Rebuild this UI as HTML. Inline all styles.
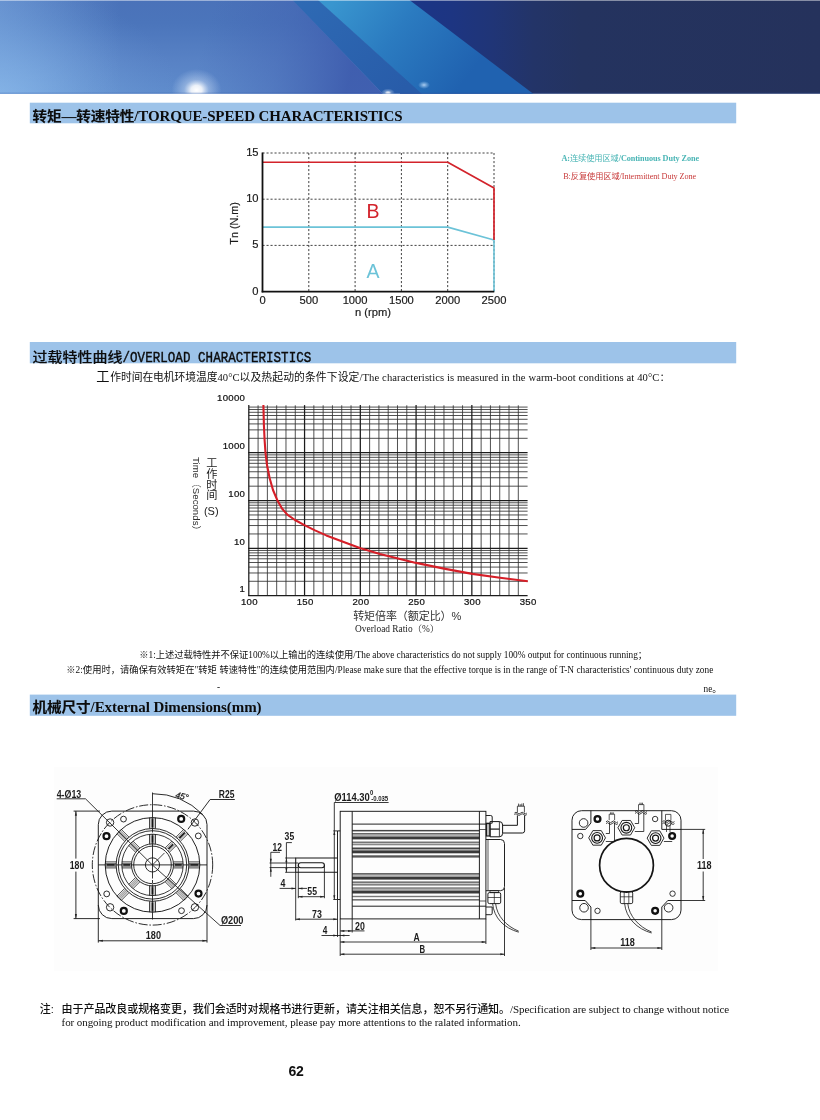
<!DOCTYPE html>
<html lang="zh-CN">
<head>
<meta charset="utf-8">
<title>Torque-Speed / Overload Characteristics / External Dimensions</title>
<style>
*{box-sizing:border-box}
html,body{margin:0;padding:0;background:#fff}
body{width:820px;height:1120px;position:relative;overflow:hidden;font-family:'Liberation Serif','Noto Sans CJK SC',serif;color:#111}
.abs{position:absolute;display:block}
.t{position:absolute;white-space:nowrap;line-height:20px;height:20px;margin:0;transform-origin:0 50%}
.h{font-weight:bold;font-size:14.6px;color:#0c0c0c}
.cj{font-family:'Liberation Sans','Noto Sans CJK SC',sans-serif}
.h .cj{display:inline-block;transform:scaleY(0.93);transform-origin:0 60%;-webkit-text-stroke:0.15px #0c0c0c}
svg text{font-family:'Liberation Sans','Noto Sans CJK SC',sans-serif}
.dot{stroke:#2e2e2e;stroke-width:0.9;stroke-dasharray:2.1 1.9;fill:none}
.tk{font-size:11.2px;fill:#1a1a1a;stroke:#1a1a1a;stroke-width:0.18}
.tk2{font-size:9.6px;fill:#111;letter-spacing:0.3px;stroke:#111;stroke-width:0.22}
.gm{stroke:#303030;stroke-width:0.85}
.gM{stroke:#1c1c1c;stroke-width:1.25}
.dm{fill:#1c1c1c;font-weight:bold;font-family:'Liberation Sans','Noto Sans CJK SC',sans-serif}
</style>
</head>
<body>

<svg class="abs" style="left:0;top:0" width="820" height="94" viewBox="0 0 820 94">
<defs>
<linearGradient id="bgL" x1="0" y1="0" x2="0" y2="1">
<stop offset="0" stop-color="#4a72b9"/><stop offset="0.25" stop-color="#4b75bb"/><stop offset="0.65" stop-color="#5882c5"/><stop offset="1" stop-color="#5f8ccc"/>
</linearGradient>
<radialGradient id="bgL2" gradientUnits="userSpaceOnUse" cx="-10" cy="100" r="190" gradientTransform="translate(0,100) scale(1,0.62) translate(0,-100)">
<stop offset="0" stop-color="#8dbdec" stop-opacity="0.85"/><stop offset="0.5" stop-color="#7aaae0" stop-opacity="0.4"/><stop offset="1" stop-color="#6a98d6" stop-opacity="0"/>
</radialGradient>
<linearGradient id="bgL4" gradientUnits="userSpaceOnUse" x1="0" y1="0" x2="120" y2="0"><stop offset="0" stop-color="#86b4e8" stop-opacity="0.45"/><stop offset="1" stop-color="#86b4e8" stop-opacity="0"/></linearGradient>
<linearGradient id="bgL3" gradientUnits="userSpaceOnUse" x1="215" y1="0" x2="360" y2="40">
<stop offset="0" stop-color="#4161b1" stop-opacity="0"/><stop offset="0.5" stop-color="#4161b1" stop-opacity="0.4"/><stop offset="1" stop-color="#3b58ab" stop-opacity="0.85"/>
</linearGradient>
<linearGradient id="band" gradientUnits="userSpaceOnUse" x1="335" y1="0" x2="455" y2="93">
<stop offset="0" stop-color="#3996cf"/><stop offset="0.45" stop-color="#2b7bc0"/><stop offset="1" stop-color="#2062b0"/>
</linearGradient>
<linearGradient id="wedge" gradientUnits="userSpaceOnUse" x1="300" y1="0" x2="400" y2="93"><stop offset="0" stop-color="#2e6ab4"/><stop offset="1" stop-color="#285ca9"/></linearGradient>
<linearGradient id="navy" gradientUnits="userSpaceOnUse" x1="410" y1="0" x2="820" y2="0">
<stop offset="0" stop-color="#1b3587"/><stop offset="0.1" stop-color="#1d3582"/><stop offset="0.2" stop-color="#203577"/><stop offset="0.3" stop-color="#233468"/><stop offset="0.42" stop-color="#24335f"/><stop offset="1" stop-color="#25325c"/>
</linearGradient>
<radialGradient id="fl"><stop offset="0" stop-color="#fff" stop-opacity="1"/><stop offset="0.22" stop-color="#fff" stop-opacity="0.88"/><stop offset="0.5" stop-color="#dbe9fb" stop-opacity="0.38"/><stop offset="1" stop-color="#cfe2fa" stop-opacity="0"/></radialGradient>
<radialGradient id="fl2"><stop offset="0" stop-color="#cfe6ff" stop-opacity="0.8"/><stop offset="1" stop-color="#9cc8f0" stop-opacity="0"/></radialGradient>
<clipPath id="bc"><rect x="0" y="0" width="820" height="93.7"/></clipPath>
</defs>
<g clip-path="url(#bc)">
<rect x="400" y="0" width="420" height="94" fill="url(#navy)"/>
<polygon points="317,0 409.5,0 533.5,94 421,94" fill="url(#band)"/>
<polygon points="290,0 318,0 422,94 380,94" fill="url(#wedge)"/>
<polygon points="0,0 292.5,0 383,94 0,94" fill="url(#bgL)"/>
<polygon points="0,0 292.5,0 383,94 0,94" fill="url(#bgL2)"/>
<polygon points="0,0 292.5,0 383,94 0,94" fill="url(#bgL3)"/>
<rect x="0" y="0" width="120" height="94" fill="url(#bgL4)"/>
<ellipse cx="196.5" cy="90" rx="25" ry="21" fill="url(#fl)"/>
<ellipse cx="388" cy="93" rx="7" ry="4.5" fill="url(#fl)"/>
<ellipse cx="424" cy="85" rx="6" ry="4" fill="url(#fl2)"/>
<rect x="0" y="0" width="820" height="1" fill="#ffffff" opacity="0.45"/>
<rect x="0" y="92.7" width="820" height="1" fill="#2a4fa0" opacity="0.35"/>
</g>
</svg>
<div class="abs" style="left:54px;top:767px;width:664px;height:204px;background:#fdfdfd"></div>
<svg class="abs" style="left:0;top:0" width="820" height="1120" viewBox="0 0 820 1120"><g fill="#9dc3e9"><rect x="29.8" y="102.7" width="706.4" height="20.6"/><rect x="29.8" y="342.0" width="706.4" height="21.3"/><rect x="29.8" y="694.6" width="706.4" height="21.2"/></g></svg>
<svg class="abs" style="left:0;top:0" width="820" height="1120" viewBox="0 0 820 1120">
<g id="torque"><line x1="308.80" y1="153.00" x2="308.80" y2="291.60" class="dot"/>
<line x1="355.10" y1="153.00" x2="355.10" y2="291.60" class="dot"/>
<line x1="401.40" y1="153.00" x2="401.40" y2="291.60" class="dot"/>
<line x1="447.70" y1="153.00" x2="447.70" y2="291.60" class="dot"/>
<line x1="494.00" y1="153.00" x2="494.00" y2="291.60" class="dot"/>
<line x1="262.50" y1="245.40" x2="494.00" y2="245.40" class="dot"/>
<line x1="262.50" y1="199.20" x2="494.00" y2="199.20" class="dot"/>
<line x1="262.50" y1="153.00" x2="494.00" y2="153.00" class="dot"/>
<polyline points="262.50,227.12 447.70,227.12 494.00,240.04 494.00,291.60" fill="none" stroke="#6cc3d8" stroke-width="1.6" stroke-linejoin="round"/>
<polyline points="262.50,162.24 447.70,162.24 494.00,188.11 494.00,240.04" fill="none" stroke="#d3232b" stroke-width="1.7" stroke-linejoin="round"/>
<line x1="262.50" y1="152.50" x2="262.50" y2="292.40" stroke="#111" stroke-width="1.8"/>
<line x1="261.70" y1="291.60" x2="494.30" y2="291.60" stroke="#111" stroke-width="1.8"/>
<text x="258.6" y="294.60" text-anchor="end" class="tk">0</text>
<text x="258.6" y="248.40" text-anchor="end" class="tk">5</text>
<text x="258.6" y="202.20" text-anchor="end" class="tk">10</text>
<text x="258.6" y="156.00" text-anchor="end" class="tk">15</text>
<text x="262.50" y="303.9" text-anchor="middle" class="tk">0</text>
<text x="308.80" y="303.9" text-anchor="middle" class="tk">500</text>
<text x="355.10" y="303.9" text-anchor="middle" class="tk">1000</text>
<text x="401.40" y="303.9" text-anchor="middle" class="tk">1500</text>
<text x="447.70" y="303.9" text-anchor="middle" class="tk">2000</text>
<text x="494.00" y="303.9" text-anchor="middle" class="tk">2500</text>
<text x="373" y="315.6" text-anchor="middle" class="tk">n (rpm)</text>
<text transform="translate(238.4,223.4) rotate(-90)" text-anchor="middle" class="tk" style="font-size:10.8px">Tn (N.m)</text>
<text x="373" y="218.2" text-anchor="middle" font-family="'Liberation Sans','Noto Sans CJK SC',sans-serif" font-size="19.5" fill="#d3232b">B</text>
<text x="373" y="277.8" text-anchor="middle" font-family="'Liberation Sans','Noto Sans CJK SC',sans-serif" font-size="19.5" fill="#6cc3d8">A</text></g>
<g id="overload"><line x1="248.80" y1="581.29" x2="527.60" y2="581.29" class="gm"/>
<line x1="248.80" y1="572.98" x2="527.60" y2="572.98" class="gm"/>
<line x1="248.80" y1="567.08" x2="527.60" y2="567.08" class="gm"/>
<line x1="248.80" y1="562.51" x2="527.60" y2="562.51" class="gm"/>
<line x1="248.80" y1="558.77" x2="527.60" y2="558.77" class="gm"/>
<line x1="248.80" y1="555.61" x2="527.60" y2="555.61" class="gm"/>
<line x1="248.80" y1="552.87" x2="527.60" y2="552.87" class="gm"/>
<line x1="248.80" y1="550.46" x2="527.60" y2="550.46" class="gm"/>
<line x1="248.80" y1="533.94" x2="527.60" y2="533.94" class="gm"/>
<line x1="248.80" y1="525.54" x2="527.60" y2="525.54" class="gm"/>
<line x1="248.80" y1="519.58" x2="527.60" y2="519.58" class="gm"/>
<line x1="248.80" y1="514.96" x2="527.60" y2="514.96" class="gm"/>
<line x1="248.80" y1="511.18" x2="527.60" y2="511.18" class="gm"/>
<line x1="248.80" y1="507.99" x2="527.60" y2="507.99" class="gm"/>
<line x1="248.80" y1="505.22" x2="527.60" y2="505.22" class="gm"/>
<line x1="248.80" y1="502.78" x2="527.60" y2="502.78" class="gm"/>
<line x1="248.80" y1="486.18" x2="527.60" y2="486.18" class="gm"/>
<line x1="248.80" y1="477.75" x2="527.60" y2="477.75" class="gm"/>
<line x1="248.80" y1="471.76" x2="527.60" y2="471.76" class="gm"/>
<line x1="248.80" y1="467.12" x2="527.60" y2="467.12" class="gm"/>
<line x1="248.80" y1="463.33" x2="527.60" y2="463.33" class="gm"/>
<line x1="248.80" y1="460.12" x2="527.60" y2="460.12" class="gm"/>
<line x1="248.80" y1="457.34" x2="527.60" y2="457.34" class="gm"/>
<line x1="248.80" y1="454.89" x2="527.60" y2="454.89" class="gm"/>
<line x1="248.80" y1="438.31" x2="527.60" y2="438.31" class="gm"/>
<line x1="248.80" y1="429.89" x2="527.60" y2="429.89" class="gm"/>
<line x1="248.80" y1="423.92" x2="527.60" y2="423.92" class="gm"/>
<line x1="248.80" y1="419.29" x2="527.60" y2="419.29" class="gm"/>
<line x1="248.80" y1="415.50" x2="527.60" y2="415.50" class="gm"/>
<line x1="248.80" y1="412.30" x2="527.60" y2="412.30" class="gm"/>
<line x1="248.80" y1="409.53" x2="527.60" y2="409.53" class="gm"/>
<line x1="248.80" y1="407.09" x2="527.60" y2="407.09" class="gm"/>
<line x1="258.09" y1="405.30" x2="258.09" y2="595.50" class="gm"/>
<line x1="267.39" y1="405.30" x2="267.39" y2="595.50" class="gm"/>
<line x1="276.68" y1="405.30" x2="276.68" y2="595.50" class="gm"/>
<line x1="285.97" y1="405.30" x2="285.97" y2="595.50" class="gm"/>
<line x1="295.27" y1="405.30" x2="295.27" y2="595.50" class="gm"/>
<line x1="313.85" y1="405.30" x2="313.85" y2="595.50" class="gm"/>
<line x1="323.15" y1="405.30" x2="323.15" y2="595.50" class="gm"/>
<line x1="332.44" y1="405.30" x2="332.44" y2="595.50" class="gm"/>
<line x1="341.73" y1="405.30" x2="341.73" y2="595.50" class="gm"/>
<line x1="351.03" y1="405.30" x2="351.03" y2="595.50" class="gm"/>
<line x1="369.61" y1="405.30" x2="369.61" y2="595.50" class="gm"/>
<line x1="378.91" y1="405.30" x2="378.91" y2="595.50" class="gm"/>
<line x1="388.20" y1="405.30" x2="388.20" y2="595.50" class="gm"/>
<line x1="397.49" y1="405.30" x2="397.49" y2="595.50" class="gm"/>
<line x1="406.79" y1="405.30" x2="406.79" y2="595.50" class="gm"/>
<line x1="425.37" y1="405.30" x2="425.37" y2="595.50" class="gm"/>
<line x1="434.67" y1="405.30" x2="434.67" y2="595.50" class="gm"/>
<line x1="443.96" y1="405.30" x2="443.96" y2="595.50" class="gm"/>
<line x1="453.25" y1="405.30" x2="453.25" y2="595.50" class="gm"/>
<line x1="462.55" y1="405.30" x2="462.55" y2="595.50" class="gm"/>
<line x1="481.13" y1="405.30" x2="481.13" y2="595.50" class="gm"/>
<line x1="490.43" y1="405.30" x2="490.43" y2="595.50" class="gm"/>
<line x1="499.72" y1="405.30" x2="499.72" y2="595.50" class="gm"/>
<line x1="509.01" y1="405.30" x2="509.01" y2="595.50" class="gm"/>
<line x1="518.31" y1="405.30" x2="518.31" y2="595.50" class="gm"/>
<line x1="248.20" y1="595.50" x2="527.60" y2="595.50" class="gM"/>
<line x1="248.20" y1="548.30" x2="527.60" y2="548.30" class="gM"/>
<line x1="248.20" y1="500.60" x2="527.60" y2="500.60" class="gM"/>
<line x1="248.20" y1="452.70" x2="527.60" y2="452.70" class="gM"/>
<line x1="248.80" y1="405.10" x2="248.80" y2="596.10" class="gM"/>
<line x1="304.56" y1="405.10" x2="304.56" y2="596.10" class="gM"/>
<line x1="360.32" y1="405.10" x2="360.32" y2="596.10" class="gM"/>
<line x1="416.08" y1="405.10" x2="416.08" y2="596.10" class="gM"/>
<line x1="471.84" y1="405.10" x2="471.84" y2="596.10" class="gM"/>
<path d="M263.4,405.0 L263.9,425.0 L264.6,440.0 L265.5,452.6 L267.0,465.0 L269.6,478.0 L273.0,490.0 L277.6,500.8 L282.0,508.5 L287.3,514.6 L295.0,520.0 L304.4,525.1 L315.0,530.4 L326.3,535.4 L343.0,541.8 L360.5,548.3 L380.0,554.1 L398.0,558.6 L416.1,562.9 L444.0,568.6 L472.2,573.9 L500.0,577.8 L527.8,581.2" fill="none" stroke="#d61f28" stroke-width="2.1" stroke-linejoin="round" stroke-linecap="butt"/>
<text x="245.2" y="401.20" text-anchor="end" class="tk2">10000</text>
<text x="245.2" y="449.30" text-anchor="end" class="tk2">1000</text>
<text x="245.2" y="496.70" text-anchor="end" class="tk2">100</text>
<text x="245.2" y="545.00" text-anchor="end" class="tk2">10</text>
<text x="245.2" y="591.80" text-anchor="end" class="tk2">1</text>
<text x="249.40" y="605.2" text-anchor="middle" class="tk2">100</text>
<text x="305.16" y="605.2" text-anchor="middle" class="tk2">150</text>
<text x="360.92" y="605.2" text-anchor="middle" class="tk2">200</text>
<text x="416.68" y="605.2" text-anchor="middle" class="tk2">250</text>
<text x="472.44" y="605.2" text-anchor="middle" class="tk2">300</text>
<text x="528.20" y="605.2" text-anchor="middle" class="tk2">350</text>
<text x="211.9 211.9 211.9 211.9" y="467.30 478.00 488.70 499.40" text-anchor="middle" font-size="11.2" fill="#222">工作时间</text>
<text x="211.3" y="514.6" text-anchor="middle" font-family="'Liberation Sans','Noto Sans CJK SC',sans-serif" font-size="11" fill="#222">(S)</text>
<text id="tsec" transform="translate(192.9,457.0) rotate(90)" font-size="9.6" fill="#2a2a2a" style="letter-spacing:0.05px">Time（Seconds）</text>
<text id="tratio" x="353.2" y="619.9" font-size="11" fill="#333" style="letter-spacing:-0.08px">转矩倍率（额定比）%</text>
<text id="toverl" x="355.1" y="631.6" style="font-family:'Liberation Serif','Noto Serif CJK SC',serif;letter-spacing:0px" font-size="9.4" fill="#222">Overload Ratio（%）</text></g>
<g id="front"><g fill="none" stroke="#151515" stroke-width="0.95">
<rect x="98.3" y="811.1" width="108.7" height="107.5" rx="13.5" ry="13.5" stroke-width="0.95"/>
<circle cx="152.5" cy="864.9" r="60.2" stroke-dasharray="9 1.8 1.6 1.8" stroke-width="0.9"/>
<circle cx="152.5" cy="864.9" r="47.3" stroke-width="0.95"/>
<circle cx="152.5" cy="864.9" r="36.4" stroke-width="0.9"/>
<circle cx="152.5" cy="864.9" r="34.2" stroke-width="0.9"/>
<circle cx="152.5" cy="864.9" r="30.7" stroke-width="0.85"/>
<circle cx="152.5" cy="864.9" r="21.0" stroke-width="0.9"/>
<circle cx="152.5" cy="864.9" r="18.8" stroke-width="0.9"/>
<circle cx="152.5" cy="864.9" r="7.1" stroke-width="0.9"/>
<line x1="188.90" y1="861.90" x2="199.80" y2="861.90" stroke-width="0.8"/>
<line x1="188.90" y1="867.90" x2="199.80" y2="867.90" stroke-width="0.8"/>
<line x1="188.90" y1="863.50" x2="199.80" y2="863.50" stroke-width="0.6"/>
<line x1="188.90" y1="866.30" x2="199.80" y2="866.30" stroke-width="0.6"/>
<line x1="190.40" y1="864.90" x2="198.30" y2="864.90" stroke-width="1.5" stroke="#111"/>
<line x1="173.50" y1="861.90" x2="183.20" y2="861.90" stroke-width="0.8"/>
<line x1="173.50" y1="867.90" x2="183.20" y2="867.90" stroke-width="0.8"/>
<line x1="173.50" y1="863.50" x2="183.20" y2="863.50" stroke-width="0.6"/>
<line x1="173.50" y1="866.30" x2="183.20" y2="866.30" stroke-width="0.6"/>
<line x1="175.00" y1="864.90" x2="181.70" y2="864.90" stroke-width="1.5" stroke="#111"/>
<line x1="180.36" y1="888.52" x2="188.07" y2="896.22" stroke-width="0.8"/>
<line x1="176.12" y1="892.76" x2="183.82" y2="900.47" stroke-width="0.8"/>
<line x1="179.23" y1="889.65" x2="186.94" y2="897.36" stroke-width="0.6"/>
<line x1="177.25" y1="891.63" x2="184.96" y2="899.34" stroke-width="0.6"/>
<line x1="178.24" y1="890.64" x2="185.95" y2="898.35" stroke-width="0.6"/>
<line x1="169.47" y1="877.63" x2="176.33" y2="884.49" stroke-width="0.8"/>
<line x1="165.23" y1="881.87" x2="172.09" y2="888.73" stroke-width="0.8"/>
<line x1="168.34" y1="878.76" x2="175.20" y2="885.62" stroke-width="0.6"/>
<line x1="166.36" y1="880.74" x2="173.22" y2="887.60" stroke-width="0.6"/>
<line x1="167.35" y1="879.75" x2="174.21" y2="886.61" stroke-width="0.6"/>
<line x1="155.50" y1="901.30" x2="155.50" y2="912.20" stroke-width="0.8"/>
<line x1="149.50" y1="901.30" x2="149.50" y2="912.20" stroke-width="0.8"/>
<line x1="153.90" y1="901.30" x2="153.90" y2="912.20" stroke-width="0.6"/>
<line x1="151.10" y1="901.30" x2="151.10" y2="912.20" stroke-width="0.6"/>
<line x1="152.50" y1="902.80" x2="152.50" y2="910.70" stroke-width="1.5" stroke="#111"/>
<line x1="155.50" y1="885.90" x2="155.50" y2="895.60" stroke-width="0.8"/>
<line x1="149.50" y1="885.90" x2="149.50" y2="895.60" stroke-width="0.8"/>
<line x1="153.90" y1="885.90" x2="153.90" y2="895.60" stroke-width="0.6"/>
<line x1="151.10" y1="885.90" x2="151.10" y2="895.60" stroke-width="0.6"/>
<line x1="152.50" y1="887.40" x2="152.50" y2="894.10" stroke-width="1.5" stroke="#111"/>
<line x1="128.88" y1="892.76" x2="121.18" y2="900.47" stroke-width="0.8"/>
<line x1="124.64" y1="888.52" x2="116.93" y2="896.22" stroke-width="0.8"/>
<line x1="127.75" y1="891.63" x2="120.04" y2="899.34" stroke-width="0.6"/>
<line x1="125.77" y1="889.65" x2="118.06" y2="897.36" stroke-width="0.6"/>
<line x1="126.76" y1="890.64" x2="119.05" y2="898.35" stroke-width="0.6"/>
<line x1="139.77" y1="881.87" x2="132.91" y2="888.73" stroke-width="0.8"/>
<line x1="135.53" y1="877.63" x2="128.67" y2="884.49" stroke-width="0.8"/>
<line x1="138.64" y1="880.74" x2="131.78" y2="887.60" stroke-width="0.6"/>
<line x1="136.66" y1="878.76" x2="129.80" y2="885.62" stroke-width="0.6"/>
<line x1="137.65" y1="879.75" x2="130.79" y2="886.61" stroke-width="0.6"/>
<line x1="116.10" y1="867.90" x2="105.20" y2="867.90" stroke-width="0.8"/>
<line x1="116.10" y1="861.90" x2="105.20" y2="861.90" stroke-width="0.8"/>
<line x1="116.10" y1="866.30" x2="105.20" y2="866.30" stroke-width="0.6"/>
<line x1="116.10" y1="863.50" x2="105.20" y2="863.50" stroke-width="0.6"/>
<line x1="114.60" y1="864.90" x2="106.70" y2="864.90" stroke-width="1.5" stroke="#111"/>
<line x1="131.50" y1="867.90" x2="121.80" y2="867.90" stroke-width="0.8"/>
<line x1="131.50" y1="861.90" x2="121.80" y2="861.90" stroke-width="0.8"/>
<line x1="131.50" y1="866.30" x2="121.80" y2="866.30" stroke-width="0.6"/>
<line x1="131.50" y1="863.50" x2="121.80" y2="863.50" stroke-width="0.6"/>
<line x1="130.00" y1="864.90" x2="123.30" y2="864.90" stroke-width="1.5" stroke="#111"/>
<line x1="124.64" y1="841.28" x2="116.93" y2="833.58" stroke-width="0.8"/>
<line x1="128.88" y1="837.04" x2="121.18" y2="829.33" stroke-width="0.8"/>
<line x1="125.77" y1="840.15" x2="118.06" y2="832.44" stroke-width="0.6"/>
<line x1="127.75" y1="838.17" x2="120.04" y2="830.46" stroke-width="0.6"/>
<line x1="126.76" y1="839.16" x2="119.05" y2="831.45" stroke-width="0.6"/>
<line x1="135.53" y1="852.17" x2="128.67" y2="845.31" stroke-width="0.8"/>
<line x1="139.77" y1="847.93" x2="132.91" y2="841.07" stroke-width="0.8"/>
<line x1="136.66" y1="851.04" x2="129.80" y2="844.18" stroke-width="0.6"/>
<line x1="138.64" y1="849.06" x2="131.78" y2="842.20" stroke-width="0.6"/>
<line x1="137.65" y1="850.05" x2="130.79" y2="843.19" stroke-width="0.6"/>
<line x1="149.50" y1="828.50" x2="149.50" y2="817.60" stroke-width="0.8"/>
<line x1="155.50" y1="828.50" x2="155.50" y2="817.60" stroke-width="0.8"/>
<line x1="151.10" y1="828.50" x2="151.10" y2="817.60" stroke-width="0.6"/>
<line x1="153.90" y1="828.50" x2="153.90" y2="817.60" stroke-width="0.6"/>
<line x1="152.50" y1="827.00" x2="152.50" y2="819.10" stroke-width="1.5" stroke="#111"/>
<line x1="149.50" y1="843.90" x2="149.50" y2="834.20" stroke-width="0.8"/>
<line x1="155.50" y1="843.90" x2="155.50" y2="834.20" stroke-width="0.8"/>
<line x1="151.10" y1="843.90" x2="151.10" y2="834.20" stroke-width="0.6"/>
<line x1="153.90" y1="843.90" x2="153.90" y2="834.20" stroke-width="0.6"/>
<line x1="152.50" y1="842.40" x2="152.50" y2="835.70" stroke-width="1.5" stroke="#111"/>
<line x1="176.12" y1="837.04" x2="183.82" y2="829.33" stroke-width="0.8"/>
<line x1="180.36" y1="841.28" x2="188.07" y2="833.58" stroke-width="0.8"/>
<line x1="177.25" y1="838.17" x2="184.96" y2="830.46" stroke-width="0.6"/>
<line x1="179.23" y1="840.15" x2="186.94" y2="832.44" stroke-width="0.6"/>
<line x1="179.30" y1="838.10" x2="184.89" y2="832.51" stroke-width="1.5" stroke="#111"/>
<line x1="165.23" y1="847.93" x2="172.09" y2="841.07" stroke-width="0.8"/>
<line x1="169.47" y1="852.17" x2="176.33" y2="845.31" stroke-width="0.8"/>
<line x1="166.36" y1="849.06" x2="173.22" y2="842.20" stroke-width="0.6"/>
<line x1="168.34" y1="851.04" x2="175.20" y2="844.18" stroke-width="0.6"/>
<line x1="168.41" y1="848.99" x2="173.15" y2="844.25" stroke-width="1.5" stroke="#111"/>
<circle cx="110.10" cy="822.50" r="3.7" stroke-width="0.9"/>
<circle cx="123.50" cy="819.10" r="2.9" stroke-width="0.9"/>
<circle cx="106.50" cy="836.20" r="3.0" stroke-width="2.2" stroke="#111"/>
<circle cx="194.90" cy="822.50" r="3.7" stroke-width="0.9"/>
<circle cx="198.30" cy="835.90" r="2.9" stroke-width="0.9"/>
<circle cx="181.20" cy="818.90" r="3.0" stroke-width="2.2" stroke="#111"/>
<circle cx="194.90" cy="907.30" r="3.7" stroke-width="0.9"/>
<circle cx="181.50" cy="910.70" r="2.9" stroke-width="0.9"/>
<circle cx="198.50" cy="893.60" r="3.0" stroke-width="2.2" stroke="#111"/>
<circle cx="110.10" cy="907.30" r="3.7" stroke-width="0.9"/>
<circle cx="106.70" cy="893.90" r="2.9" stroke-width="0.9"/>
<circle cx="123.80" cy="910.90" r="3.0" stroke-width="2.2" stroke="#111"/>
<line x1="152.5" y1="792.5" x2="152.5" y2="919.5" stroke-width="0.85" stroke-dasharray="40 1.5 3 1.5"/>
<line x1="98.3" y1="864.9" x2="207" y2="864.9" stroke-width="0.9"/>
<path d="M152.5,793.70 A71.2,71.2 0 0 1 202.85,814.55" stroke-width="0.9"/>
<polyline points="56.7,798.8 85.5,798.8 152.4,865 220.1,925.5 241,925.5" stroke-width="0.85"/>
<polyline points="234.8,799.5 210.1,799.5 187.9,829.3" stroke-width="0.9"/><line x1="152.4" y1="865" x2="164.5" y2="852.9" stroke-width="0.8"/>
<line x1="73.6" y1="811.1" x2="100" y2="811.1" stroke-width="0.9"/>
<line x1="73.6" y1="918.6" x2="100" y2="918.6" stroke-width="0.9"/>
<line x1="75.9" y1="811.1" x2="75.9" y2="858.6" stroke-width="0.9"/>
<line x1="75.9" y1="871.6" x2="75.9" y2="918.6" stroke-width="0.9"/>
<line x1="98.3" y1="905" x2="98.3" y2="942.6" stroke-width="0.9"/>
<line x1="207" y1="905" x2="207" y2="942.6" stroke-width="0.9"/>
<line x1="98.3" y1="940.8" x2="207" y2="940.8" stroke-width="0.9"/>
</g>
<polygon points="75.90,811.10 76.95,815.70 74.85,815.70" fill="#222" stroke="none"/>
<polygon points="75.90,918.60 74.85,914.00 76.95,914.00" fill="#222" stroke="none"/>
<polygon points="98.30,940.80 102.90,939.75 102.90,941.85" fill="#222" stroke="none"/>
<polygon points="207.00,940.80 202.40,941.85 202.40,939.75" fill="#222" stroke="none"/>
<text x="77.00" y="868.80" text-anchor="middle" class="dm" font-size="10.6" textLength="14.6" lengthAdjust="spacingAndGlyphs">180</text>
<text x="153.40" y="939.20" text-anchor="middle" class="dm" font-size="10.6" textLength="15.2" lengthAdjust="spacingAndGlyphs">180</text>
<text x="69.00" y="798.00" text-anchor="middle" class="dm" font-size="10.6" textLength="24.6" lengthAdjust="spacingAndGlyphs">4-Ø13</text>
<text x="226.60" y="798.40" text-anchor="middle" class="dm" font-size="10.6" textLength="15.6" lengthAdjust="spacingAndGlyphs">R25</text>
<text x="232.20" y="923.90" text-anchor="middle" class="dm" font-size="10.6" textLength="22.6" lengthAdjust="spacingAndGlyphs">Ø200</text>
<text transform="translate(181.2,799.0) rotate(14)" text-anchor="middle" font-style="italic" font-size="8.6" fill="#222" stroke="#222" stroke-width="0.25">45°</text></g>
<g id="side"><g fill="none" stroke="#151515" stroke-width="0.95">
<rect x="352.2" y="834.5" width="127.2" height="2.00" fill="#b0b0b0" stroke="none"/>
<rect x="352.2" y="849.0" width="127.2" height="1.40" fill="#a8a8a8" stroke="none"/>
<rect x="352.2" y="842.8" width="127.2" height="1.20" fill="#c4c4c4" stroke="none"/>
<rect x="352.2" y="874.7" width="127.2" height="2.00" fill="#b8b8b8" stroke="none"/>
<rect x="352.2" y="888.7" width="127.2" height="1.90" fill="#b0b0b0" stroke="none"/>
<rect x="352.2" y="882.8" width="127.2" height="1.40" fill="#c8c8c8" stroke="none"/>
<rect x="352.2" y="829.9" width="127.2" height="1.50" fill="#444" stroke="none"/>
<rect x="352.2" y="833.0" width="127.2" height="1.50" fill="#666" stroke="none"/>
<rect x="352.2" y="836.5" width="127.2" height="2.90" fill="#3a3a3a" stroke="none"/>
<rect x="352.2" y="841.6" width="127.2" height="1.20" fill="#555" stroke="none"/>
<rect x="352.2" y="844.0" width="127.2" height="1.30" fill="#888" stroke="none"/>
<rect x="352.2" y="847.5" width="127.2" height="1.50" fill="#444" stroke="none"/>
<rect x="352.2" y="850.4" width="127.2" height="2.90" fill="#3a3a3a" stroke="none"/>
<rect x="352.2" y="855.3" width="127.2" height="2.30" fill="#555" stroke="none"/>
<rect x="352.2" y="873.0" width="127.2" height="1.70" fill="#666" stroke="none"/>
<rect x="352.2" y="876.7" width="127.2" height="2.90" fill="#3a3a3a" stroke="none"/>
<rect x="352.2" y="881.5" width="127.2" height="1.30" fill="#555" stroke="none"/>
<rect x="352.2" y="884.2" width="127.2" height="1.30" fill="#666" stroke="none"/>
<rect x="352.2" y="887.4" width="127.2" height="1.30" fill="#666" stroke="none"/>
<rect x="352.2" y="890.6" width="127.2" height="2.90" fill="#3a3a3a" stroke="none"/>
<rect x="352.2" y="895.8" width="127.2" height="1.40" fill="#777" stroke="none"/>
<rect x="352.2" y="899.2" width="127.2" height="1.30" fill="#555" stroke="none"/>
<rect x="340.2" y="811.3" width="145.7" height="107.6" stroke-width="0.95"/>
<line x1="352.2" y1="811.3" x2="352.2" y2="918.9"/>
<line x1="479.4" y1="811.3" x2="479.4" y2="918.9"/>
<line x1="352.2" y1="824.1" x2="485.9" y2="824.1"/>
<line x1="352.2" y1="906.2" x2="485.9" y2="906.2"/>
<line x1="479.4" y1="829.5" x2="485.9" y2="829.5" stroke-width="0.7"/>
<line x1="479.4" y1="901" x2="485.9" y2="901" stroke-width="0.7"/>
<polyline points="340.2,830.9 337.5,830.9 337.5,899.5 340.2,899.5" />
<polyline points="337.5,858 295.7,858 295.7,872.3 337.5,872.3" stroke-width="1.05"/>
<rect x="298.3" y="862.7" width="26.1" height="5" rx="2.5" ry="2.5" stroke-width="1.1"/>
<line x1="298.3" y1="865.2" x2="298.3" y2="898.2" stroke-width="0.85"/>
<line x1="324.4" y1="865.2" x2="324.4" y2="898.2" stroke-width="0.85"/>
<line x1="269.6" y1="863.0" x2="298.3" y2="863.0" stroke-width="0.85"/>
<line x1="269.6" y1="867.6" x2="298.3" y2="867.6" stroke-width="0.85"/>
<polyline points="280,852.3 270.8,852.3 270.8,876.8" stroke-width="0.85"/>
<polyline points="291.9,842.6 286.4,842.6 286.4,872.3" stroke-width="0.85"/>
<line x1="285.2" y1="858" x2="295.7" y2="858" stroke-width="0.85"/>
<line x1="285.2" y1="872.3" x2="295.7" y2="872.3" stroke-width="0.85"/>
<line x1="295.7" y1="872.3" x2="295.7" y2="920.5" stroke-width="0.85"/>
<line x1="279.6" y1="888.4" x2="295.7" y2="888.4" stroke-width="0.85"/><line x1="298.3" y1="888.4" x2="307" y2="888.4" stroke-width="0.85"/>
<line x1="298.3" y1="896.7" x2="324.4" y2="896.7" stroke-width="0.85"/>
<line x1="295.7" y1="919.2" x2="337.5" y2="919.2" stroke-width="0.85"/>
<polyline points="388.6,802.5 334.3,802.5 334.3,899.5" stroke-width="0.85"/>
<line x1="333.3" y1="830.9" x2="337.5" y2="830.9" stroke-width="0.85"/>
<line x1="333.3" y1="899.5" x2="337.5" y2="899.5" stroke-width="0.85"/>
<line x1="337.5" y1="899.5" x2="337.5" y2="937" stroke-width="0.85"/>
<line x1="340.2" y1="918.9" x2="340.2" y2="956" stroke-width="0.85"/>
<line x1="352.2" y1="918.9" x2="352.2" y2="932.5" stroke-width="0.85"/>
<line x1="340.2" y1="930.9" x2="364.5" y2="930.9" stroke-width="0.85"/>
<line x1="321.5" y1="935.5" x2="349.6" y2="935.5" stroke-width="0.85"/>
<line x1="340.2" y1="942" x2="485.9" y2="942" stroke-width="0.85"/>
<line x1="340.2" y1="954.2" x2="504.5" y2="954.2" stroke-width="0.85"/>
<line x1="485.9" y1="918.9" x2="485.9" y2="944" stroke-width="0.85"/>
<line x1="504.5" y1="888" x2="504.5" y2="956" stroke-width="0.85"/>
<path d="M485.9,815.5 H490.7 Q492.2,815.5 492.2,817 V823.2 H485.9"/>
<path d="M485.9,907 H492.2 V913.2 Q492.2,914.7 490.7,914.7 H485.9"/>
<path d="M485.9,839.5 H500.5 Q504.5,839.5 504.5,843.5 V886.7 Q504.5,890.7 500.5,890.7 H485.9" />
<line x1="488" y1="839.5" x2="488" y2="890.7" stroke-width="0.7"/>
<rect x="486.4" y="823.6" width="3.6" height="12.4" stroke-width="1.1" fill="#bbb"/>
<path d="M490,821.6 H499.4 Q502.6,821.6 502.6,825 V833.4 Q502.6,836.8 499.4,836.8 H490 Z" stroke-width="1.0"/>
<line x1="490" y1="829.1" x2="499.4" y2="829.1" stroke-width="1.2"/>
<line x1="499.4" y1="821.6" x2="499.4" y2="836.8" stroke-width="0.8"/>
<path d="M502.6,825.3 H517.4 V815.4 M502.6,833 H522.4 Q524.6,833 524.6,830.8 V815.4" stroke-width="1.0"/>
<path d="M514.4,814.6 q1.55,-1.7 3.1,0 t3.1,0 t3.1,0 t3.1,0" stroke-width="0.8"/>
<path d="M514.4,813.1 q1.55,-1.7 3.1,0 t3.1,0 t3.1,0 t3.1,0" stroke-width="0.8"/>
<path d="M517.4,812.6 V806.2 H524.4 V812.6 M518.6,806.2 V803.6 M520.2,806.2 V804.2 M521.8,806.2 V803.6 M523.4,806.2 V803.2" stroke-width="0.75"/>
<rect x="487.9" y="892.6" width="12.8" height="11" rx="1.5"/>
<line x1="487.9" y1="897.5" x2="500.7" y2="897.5" stroke-width="0.7"/>
<line x1="494.3" y1="892.6" x2="494.3" y2="903.6" stroke-width="0.7"/>
<rect x="490" y="890.7" width="8.5" height="2" stroke-width="0.7"/>
<path d="M492.6,903.6 C494,918 504,928 518.7,932.2" stroke-width="0.8"/>
<path d="M495.6,903.6 C497,916 506,926 518.7,931.2" stroke-width="0.8"/>
</g>
<polygon points="270.80,863.00 269.80,858.80 271.80,858.80" fill="#222" stroke="none"/>
<polygon points="270.80,867.60 271.80,871.80 269.80,871.80" fill="#222" stroke="none"/>
<polygon points="286.40,858.00 287.40,862.20 285.40,862.20" fill="#222" stroke="none"/>
<polygon points="286.40,872.30 285.40,868.10 287.40,868.10" fill="#222" stroke="none"/>
<polygon points="295.70,888.40 291.50,889.40 291.50,887.40" fill="#222" stroke="none"/>
<polygon points="298.30,888.40 302.50,887.40 302.50,889.40" fill="#222" stroke="none"/>
<polygon points="298.30,896.70 302.50,895.70 302.50,897.70" fill="#222" stroke="none"/>
<polygon points="324.40,896.70 320.20,897.70 320.20,895.70" fill="#222" stroke="none"/>
<polygon points="295.70,919.20 299.90,918.20 299.90,920.20" fill="#222" stroke="none"/>
<polygon points="337.50,919.20 333.30,920.20 333.30,918.20" fill="#222" stroke="none"/>
<polygon points="334.30,830.90 335.30,835.10 333.30,835.10" fill="#222" stroke="none"/>
<polygon points="334.30,899.50 333.30,895.30 335.30,895.30" fill="#222" stroke="none"/>
<polygon points="340.20,930.90 344.40,929.90 344.40,931.90" fill="#222" stroke="none"/>
<polygon points="352.20,930.90 348.00,931.90 348.00,929.90" fill="#222" stroke="none"/>
<polygon points="337.50,935.50 333.30,936.50 333.30,934.50" fill="#222" stroke="none"/>
<polygon points="340.20,935.50 344.40,934.50 344.40,936.50" fill="#222" stroke="none"/>
<polygon points="340.20,942.00 344.40,941.00 344.40,943.00" fill="#222" stroke="none"/>
<polygon points="485.90,942.00 481.70,943.00 481.70,941.00" fill="#222" stroke="none"/>
<polygon points="340.20,954.20 344.40,953.20 344.40,955.20" fill="#222" stroke="none"/>
<polygon points="504.50,954.20 500.30,955.20 500.30,953.20" fill="#222" stroke="none"/>
<text x="277.20" y="850.90" text-anchor="middle" class="dm" font-size="10.6" textLength="9.4" lengthAdjust="spacingAndGlyphs">12</text>
<text x="289.40" y="839.70" text-anchor="middle" class="dm" font-size="10.6" textLength="9.6" lengthAdjust="spacingAndGlyphs">35</text>
<text x="283.00" y="887.00" text-anchor="middle" class="dm" font-size="10.6" textLength="4.9" lengthAdjust="spacingAndGlyphs">4</text>
<text x="312.20" y="894.70" text-anchor="middle" class="dm" font-size="10.6" textLength="9.7" lengthAdjust="spacingAndGlyphs">55</text>
<text x="317.00" y="917.70" text-anchor="middle" class="dm" font-size="10.6" textLength="9.8" lengthAdjust="spacingAndGlyphs">73</text>
<text x="360.00" y="930.20" text-anchor="middle" class="dm" font-size="10.6" textLength="9.8" lengthAdjust="spacingAndGlyphs">20</text>
<text x="325.00" y="934.00" text-anchor="middle" class="dm" font-size="10.6" textLength="4.6" lengthAdjust="spacingAndGlyphs">4</text>
<text x="416.60" y="940.50" text-anchor="middle" class="dm" font-size="10.6" textLength="6.2" lengthAdjust="spacingAndGlyphs">A</text>
<text x="422.20" y="952.60" text-anchor="middle" class="dm" font-size="10.6" textLength="5.6" lengthAdjust="spacingAndGlyphs">B</text>
<text x="334.2" y="800.9" class="dm" font-size="10.15" textLength="35.6" lengthAdjust="spacingAndGlyphs">Ø114.30</text>
<text x="370" y="795.4" class="dm" font-size="6.4" textLength="3.3" lengthAdjust="spacingAndGlyphs">0</text>
<text x="371.2" y="800.9" class="dm" font-size="7.4" textLength="17" lengthAdjust="spacingAndGlyphs">-0.035</text></g>
<g id="rear"><g fill="none" stroke="#151515" stroke-width="0.95">
<rect x="572" y="810.7" width="109" height="108.9" rx="9.5" ry="9.5" stroke-width="0.95"/>
<path d="M590.9,810.7 V823 L585.6,829.4 H572"/>
<path d="M590.9,919.6 V907 L585.2,900.5 H572"/>
<path d="M661.8,919.6 V907 L667.8,900.5 H681"/>
<path d="M661.8,810.7 V829.4 H681"/>
<circle cx="626.5" cy="865.2" r="26.9" stroke-width="1.7" stroke="#151515"/>
<circle cx="583.61" cy="822.96" r="4.3" stroke-width="0.9"/>
<circle cx="584.02" cy="907.76" r="4.3" stroke-width="0.9"/>
<circle cx="668.61" cy="907.76" r="4.3" stroke-width="0.9"/>
<circle cx="580.29" cy="836.02" r="2.7" stroke-width="0.85"/>
<circle cx="597.50" cy="910.87" r="2.7" stroke-width="0.85"/>
<circle cx="672.55" cy="893.66" r="2.7" stroke-width="0.85"/>
<circle cx="655.13" cy="819.02" r="2.7" stroke-width="0.85"/>
<circle cx="597.50" cy="819.02" r="2.9" stroke-width="2.3" stroke="#111"/>
<circle cx="580.29" cy="893.66" r="2.9" stroke-width="2.3" stroke="#111"/>
<circle cx="655.13" cy="910.87" r="2.9" stroke-width="2.3" stroke="#111"/>
<circle cx="672.13" cy="836.02" r="2.9" stroke-width="2.3" stroke="#111"/>
<polygon points="605.49,837.89 601.29,845.17 592.89,845.17 588.69,837.89 592.89,830.62 601.29,830.62" stroke-width="0.9"/>
<circle cx="597.09" cy="837.89" r="5.4" stroke-width="1.1"/>
<circle cx="597.09" cy="837.89" r="3.0" stroke-width="1.2"/>
<polygon points="634.72,827.73 630.52,835.01 622.12,835.01 617.92,827.73 622.12,820.46 630.52,820.46" stroke-width="0.9"/>
<circle cx="626.32" cy="827.73" r="5.4" stroke-width="1.1"/>
<circle cx="626.32" cy="827.73" r="3.0" stroke-width="1.2"/>
<polygon points="663.95,838.10 659.75,845.37 651.35,845.37 647.15,838.10 651.35,830.82 659.75,830.82" stroke-width="0.9"/>
<circle cx="655.55" cy="838.10" r="5.4" stroke-width="1.1"/>
<circle cx="655.55" cy="838.10" r="3.0" stroke-width="1.2"/>
<path d="M605.8,833.5 H609.5 V822.5 M605.8,841.5 H614.5 V822.5" stroke-width="0.8"/>
<path d="M606,821.8 q1.5,-1.8 3,0 t3,0 t3,0 t3,0" stroke-width="0.8"/>
<path d="M606,823.6 q1.5,-1.8 3,0 t3,0 t3,0 t3,0" stroke-width="0.8"/>
<path d="M609.2,820.2 V814.2 H614.6 V820.2 M610.6,814.2 V812.3 M613.2,814.2 V812.3 M611.9,814.2 V812.3" stroke-width="0.7"/>
<path d="M634.8,823.5 H638.6 V812.5 M634.8,831.5 H643.8 V812.5" stroke-width="0.8"/>
<path d="M635,811.6 q1.5,-1.8 3,0 t3,0 t3,0 t3,0" stroke-width="0.8"/>
<path d="M635,813.4 q1.5,-1.8 3,0 t3,0 t3,0 t3,0" stroke-width="0.8"/>
<path d="M638.5,810.2 V804.6 H643.9 V810.2 M639.9,804.6 V802.7 M642.5,804.6 V802.7 M641.2,804.6 V802.7" stroke-width="0.7"/>
<path d="M663.9,841.5 H672.2" stroke-width="0.8"/>
<circle cx="668.2" cy="823.2" r="3" stroke-width="1"/>
<path d="M662.5,821.6 q1.5,-1.8 3,0 t3,0 t3,0 t3,0" stroke-width="0.8"/>
<path d="M662.5,823.6 q1.5,-1.8 3,0 t3,0 t3,0 t3,0" stroke-width="0.8"/>
<path d="M665.5,820.5 V814.4 H670.9 V820.5 M666.5,826 V832 M670,826 V832" stroke-width="0.7"/>
<rect x="620.3" y="891.6" width="12.4" height="12" rx="1.5" stroke-width="0.9"/>
<line x1="620.3" y1="896.8" x2="632.7" y2="896.8" stroke-width="0.7"/>
<line x1="624.2" y1="891.6" x2="624.2" y2="903.6" stroke-width="0.7"/>
<line x1="628.8" y1="891.6" x2="628.8" y2="903.6" stroke-width="0.7"/>
<path d="M624.6,903.6 C626,918 637,929 651.6,933" stroke-width="0.8"/>
<path d="M627.8,903.6 C629,916 639,927 651.6,932" stroke-width="0.8"/>
<line x1="681" y1="829.4" x2="705.2" y2="829.4" stroke-width="0.85"/>
<line x1="681" y1="900.5" x2="705.2" y2="900.5" stroke-width="0.85"/>
<line x1="703.2" y1="829.4" x2="703.2" y2="859" stroke-width="0.85"/>
<line x1="703.2" y1="871.5" x2="703.2" y2="900.5" stroke-width="0.85"/>
<line x1="590.9" y1="919.6" x2="590.9" y2="950" stroke-width="0.85"/>
<line x1="661.8" y1="919.6" x2="661.8" y2="950" stroke-width="0.85"/>
<line x1="590.9" y1="948" x2="661.8" y2="948" stroke-width="0.85"/>
</g>
<polygon points="703.20,829.40 704.20,833.80 702.20,833.80" fill="#222" stroke="none"/>
<polygon points="703.20,900.50 702.20,896.10 704.20,896.10" fill="#222" stroke="none"/>
<polygon points="590.90,948.00 595.30,947.00 595.30,949.00" fill="#222" stroke="none"/>
<polygon points="661.80,948.00 657.40,949.00 657.40,947.00" fill="#222" stroke="none"/>
<text x="704.30" y="869.00" text-anchor="middle" class="dm" font-size="10.6" textLength="14.6" lengthAdjust="spacingAndGlyphs">118</text>
<text x="627.60" y="946.20" text-anchor="middle" class="dm" font-size="10.6" textLength="14.6" lengthAdjust="spacingAndGlyphs">118</text></g>
</svg>
<h2 id="h1" class="t h" style="left:32.5px;top:105.90px;font-size:15px;"><span style="letter-spacing:-0.124px"><span class="cj" style="font-size:14.6px">转矩</span>—<span class="cj" style="font-size:14.6px">转速特性</span>/TORQUE-SPEED CHARACTERISTICS</span></h2>
<h2 id="h2" class="t h" style="left:32.5px;top:346.80px;font-weight:normal;font-size:15px;"><span class="cj" style="font-weight:500">过载特性曲线</span><span id="h2l" style="display:inline-block;font-family:'Liberation Mono',monospace;font-size:12.5px;transform:scaleY(1.2);transform-origin:0 72%;-webkit-text-stroke:0.35px #0c0c0c;letter-spacing:0.05px">/OVERLOAD CHARACTERISTICS</span></h2>
<h2 id="h3" class="t h" style="left:32.5px;top:696.50px;font-size:15px;"><span style="letter-spacing:-0.082px"><span class="cj" style="font-size:14.6px">机械尺寸</span>/External Dimensions(mm)</span></h2>
<div id="lgA" class="t " style="left:561.5px;top:149.00px;font-size:8.2px;font-weight:bold;color:#49b5b5;"><span style="letter-spacing:-0.075px">A:<span class="cj" style="font-weight:normal">连续使用区域</span>/Continuous Duty Zone</span></div>
<div id="lgB" class="t " style="left:563.2px;top:167.00px;font-size:8.2px;color:#c83a3a;"><span style="letter-spacing:-0.068px">B:<span class="cj">反复使用区域</span>/Intermittent Duty Zone</span></div>
<p id="p1" class="t " style="left:96.2px;top:366.90px;font-size:10.6px;"><span style="font-size:13.2px;letter-spacing:0.812px"><span class="cj">工</span></span><span style="font-size:10.8px;letter-spacing:-0.067px"><span class="cj">作时间在电机环境温度</span></span><span style="letter-spacing:0.023px">40°C</span><span style="font-size:10.8px;letter-spacing:0.112px"><span class="cj">以及热起动的条件下设定</span></span><span style="letter-spacing:0.105px">/The characteristics is measured in the warm-boot conditions at 40°C</span><span class="cj">：</span></p>
<p id="n1" class="t " style="left:139.3px;top:645.30px;font-size:9.3px;"><span style="letter-spacing:-0.040px"><span class="cj">※</span>1:<span class="cj">上述过载特性并不保证</span>100%<span class="cj">以上输出的连续使用</span>/The above characteristics do not supply 100% output for continuous running</span><span class="cj">；</span></p>
<p id="n2" class="t " style="left:66.3px;top:660.30px;font-size:9.3px;"><span style="letter-spacing:0.004px"><span class="cj">※</span>2:<span class="cj">使用时，请确保有效转矩在</span>"<span class="cj">转矩 转速特性</span>"<span class="cj">的连续使用范围内</span>/Please make sure that the effective torque is in the range of T-N characteristics' continuous duty zone</span></p>
<p id="n3" class="t " style="left:217.0px;top:677.20px;font-size:9.3px;">-</p>
<p id="n4" class="t " style="left:703.5px;top:678.60px;font-size:9.3px;">ne<span class="cj">。</span></p>
<p id="f0" class="t " style="left:39.7px;top:999.20px;font-size:11px;"><span class="cj" style="font-weight:500">注:</span></p>
<p id="f1" class="t " style="left:61.6px;top:999.20px;font-size:11px;"><span style="letter-spacing:-0.064px"><span class="cj" style="font-weight:500">由于产品改良或规格变更，我们会适时对规格书进行更新，请关注相关信息，恕不另行通知。</span>/Specification are subject to change without notice</span></p>
<p id="f2" class="t " style="left:61.6px;top:1012.20px;font-size:11px;"><span style="letter-spacing:-0.078px">for ongoing product modification and improvement, please pay more attentions to the ralated information.</span></p>
<div id="pg" class="t " style="left:288.6px;top:1060.90px;font-family:'Liberation Sans',sans-serif;font-weight:bold;font-size:14px;"><span style="letter-spacing:-0.489px">62</span></div>
</body>
</html>
